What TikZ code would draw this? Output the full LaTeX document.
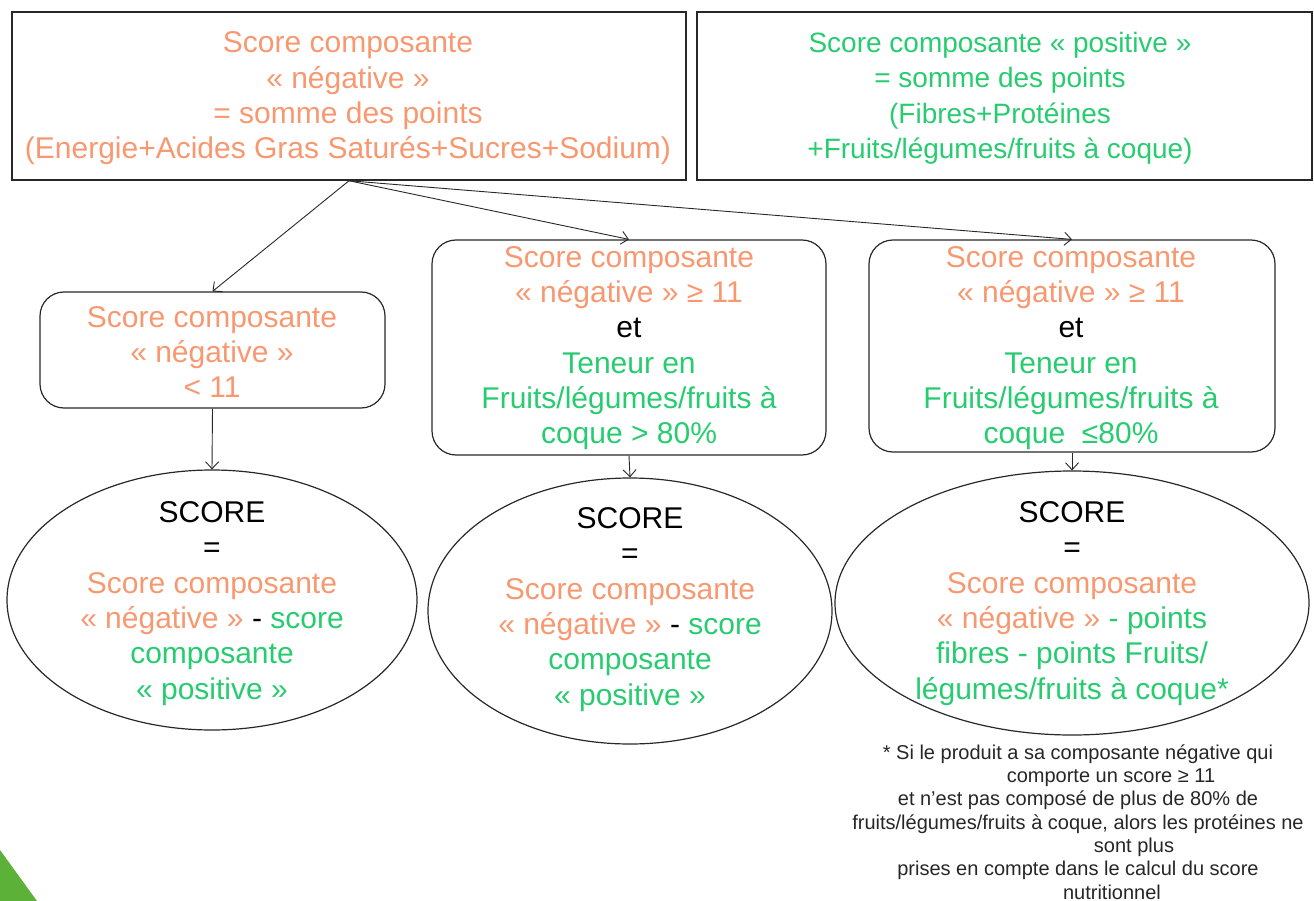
\documentclass[tikz,border=0pt]{standalone}
\usepackage{fontspec}
\setmainfont{Liberation Sans}
\usetikzlibrary{arrows.meta,shapes.geometric}
\definecolor{neg}{RGB}{248,152,112}
\definecolor{pos}{RGB}{40,204,112}
\definecolor{tri}{RGB}{92,178,56}
\definecolor{edge}{RGB}{40,40,40}
\begin{document}
\begin{tikzpicture}[x=1pt,y=-1pt,
  sqbox/.style={draw=edge, line width=1.5pt, inner sep=0pt},
  rbox/.style={draw=edge, line width=1.2pt, rounded corners=24pt, inner sep=0pt},
  ell/.style={draw=edge, line width=1.2pt, ellipse, inner sep=0pt},
  txt/.style={align=center, inner sep=0pt, font=\fontsize{30}{35.3}\selectfont},
  note/.style={align=center, inner sep=0pt, text=black!85, font=\fontsize{20}{23.3}\selectfont},
  arr/.style={draw=edge, line width=0.9pt, -{Straight Barb[length=7pt,width=13pt]}}]
\useasboundingbox (0,0) rectangle (1314,901);
\fill[tri] (0,850) -- (37,901) -- (0,901) -- cycle;

% shapes
\node[sqbox, minimum width=674pt, minimum height=168pt] (neg) at (349,96) {};
\node[sqbox, minimum width=615pt, minimum height=168pt] (pos) at (1004.5,96) {};
\node[rbox, minimum width=345pt, minimum height=116pt] (c1) at (212.5,350) {};
\node[rbox, minimum width=394pt, minimum height=215pt] (c2) at (629,347.5) {};
\node[rbox, minimum width=406pt, minimum height=212pt] (c3) at (1072,346) {};
\node[ell, minimum width=410pt, minimum height=260pt] (e1) at (212,600) {};
\node[ell, minimum width=404pt, minimum height=266pt] (e2) at (630,611) {};
\node[ell, minimum width=474pt, minimum height=264pt] (e3) at (1072,603) {};

% texts
\node[txt, text=neg] (tneg) at (348,98.5) {Score composante\\«~négative~»\\= somme des points\\(Energie+Acides Gras Saturés+Sucres+Sodium)};
\node[txt, text=pos, font=\fontsize{28}{35.5}\selectfont] (tpos) at (1000,98.5) {Score composante «~positive~»\\= somme des points\\(Fibres+Protéines\\+Fruits/légumes/fruits à coque)};
\node[txt, text=neg] (tc1) at (212,352) {Score composante\\«~négative~»\\< 11};
\node[txt] (tc2) at (629,348) {\textcolor{neg}{Score composante}\\\textcolor{neg}{«~négative~» ≥ 11}\\et\\\textcolor{pos}{Teneur en}\\\textcolor{pos}{Fruits/légumes/fruits à}\\\textcolor{pos}{coque > 80\%}};
\node[txt] (tc3) at (1071,348) {\textcolor{neg}{Score composante}\\\textcolor{neg}{«~négative~» ≥ 11}\\et\\\textcolor{pos}{Teneur en}\\\textcolor{pos}{Fruits/légumes/fruits à}\\\textcolor{pos}{coque\ \ ≤80\%}};
\node[txt] (te1) at (212,603.5) {SCORE\\=\\\textcolor{neg}{Score composante}\\\textcolor{neg}{«~négative~»} - \textcolor{pos}{score}\\\textcolor{pos}{composante}\\\textcolor{pos}{«~positive~»}};
\node[txt] (te2) at (630,609.5) {SCORE\\=\\\textcolor{neg}{Score composante}\\\textcolor{neg}{«~négative~»} - \textcolor{pos}{score}\\\textcolor{pos}{composante}\\\textcolor{pos}{«~positive~»}};
\node[txt] (te3) at (1072,603.5) {SCORE\\=\\\textcolor{neg}{Score composante}\\\textcolor{neg}{«~négative~»} \textcolor{pos}{- points}\\\textcolor{pos}{fibres - points Fruits/}\\\textcolor{pos}{légumes/fruits à coque*}};

\node[note] (fn) at (1078,822) {* Si le produit a sa composante négative qui\\\hspace*{66pt}comporte un score ≥ 11\\et n'est pas composé de plus de 80\% de\\fruits/légumes/fruits à coque, alors les protéines ne\\\hspace*{112pt}sont plus\\prises en compte dans le calcul du score\\\hspace*{68pt}nutritionnel};

% connectors
\draw[arr] (neg.south) -- (c1.north);
\draw[arr] (neg.south) -- (c2.north);
\draw[arr] (neg.south) -- (c3.north);
\draw[arr] (c1.south) -- (e1.north);
\draw[arr] (c2.south) -- (e2.north);
\draw[arr] (c3.south) -- (e3.north);
\end{tikzpicture}
\end{document}
